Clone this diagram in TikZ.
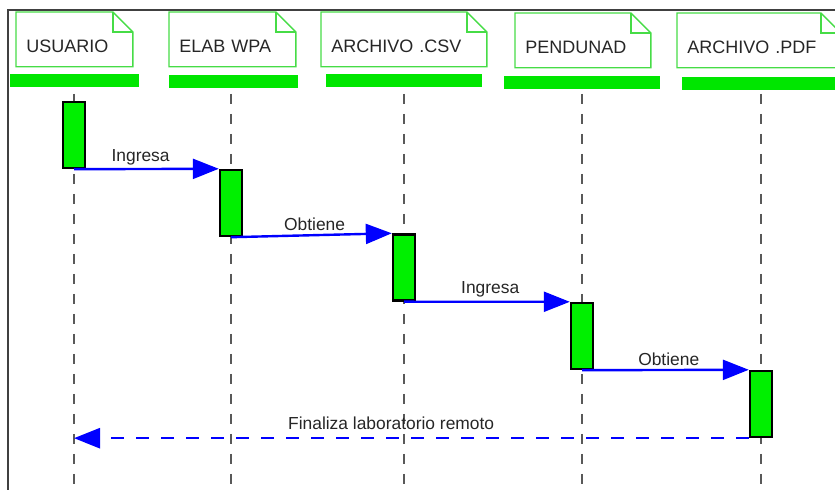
\documentclass[tikz,border=0pt]{standalone}
\usepackage{fontspec}
\setmainfont{Liberation Sans}
\usetikzlibrary{arrows.meta,calc}
\definecolor{bargreen}{RGB}{0,230,0}
\definecolor{actgreen}{RGB}{0,240,0}
\definecolor{notegreen}{RGB}{70,220,70}
\definecolor{msgblue}{RGB}{0,0,255}
\tikzset{
  >={Triangle[length=13pt,width=10pt]},
  headbox/.style={anchor=north west,inner xsep=5pt,inner ysep=0pt,
    text height=20pt,text depth=7pt,align=left,
    font=\fontsize{9}{10}\selectfont,text=black!85},
  headline/.style={draw=notegreen,line width=0.7pt},
  headbar/.style={fill=bargreen},
  lifeline/.style={black!65,line width=0.8pt,dash pattern=on 5pt off 5pt},
  actbox/.style={draw=black,line width=1.2pt,fill=actgreen,minimum width=11pt,
    minimum height=33pt,inner sep=0pt},
  msg/.style={->,msgblue,line width=1.2pt},
  ret/.style={msg,line width=1.3pt,dash pattern=on 6.5pt off 6pt},
  msglbl/.style={above,font=\fontsize{8.7}{10}\selectfont,inner sep=1.5pt,
    text=black!85},
  frame/.style={black!75,line width=1pt},
}
\begin{document}
\begin{tikzpicture}[x=0.5pt,y=-0.5pt]
  \useasboundingbox (0,0) rectangle (835,490);
  \draw[frame] (8,490) -- (8,10) -- (835,10);
  \node[headbox,text width=48pt] (usuario) at (16,12) {USUARIO};
  \node[headbox,text width=53pt] (elab) at (169,12) {ELAB WPA};
  \node[headbox,text width=72.5pt] (csv) at (321,12) {ARCHIVO .CSV};
  \node[headbox,text width=57.5pt] (pend) at (515,13) {PENDUNAD};
  \node[headbox,text width=71.5pt] (pdf) at (677,13) {ARCHIVO .PDF};
  \foreach \h in {usuario,elab,csv,pend,pdf}{
    \draw[headline] (\h.south west) |- ($(\h.north east)+(-10pt,0)$)
      -- ($(\h.north east)+(0,-10pt)$) -- (\h.south east) -- cycle;
    \draw[headline] ($(\h.north east)+(-10pt,0)$) |- ($(\h.north east)+(0,-10pt)$);
  }
  \fill[headbar] (10,74) rectangle (139,87);
  \fill[headbar] (169,75) rectangle (298,88);
  \fill[headbar] (326,74) rectangle (482,87);
  \fill[headbar] (504,76) rectangle (660,89);
  \fill[headbar] (682,77) rectangle (835,90);
  \foreach \i/\x in {1/74,2/231,3/404,4/582,5/761}{
    \coordinate (top\i) at (\x,94);
    \coordinate (bot\i) at (\x,490);
    \draw[lifeline] (top\i) -- (bot\i);
  }
  \node[actbox] (a1) at (74,135) {};
  \node[actbox] (a2) at (231,203) {};
  \node[actbox] (a3) at (404,267.5) {};
  \node[actbox] (a4) at (582,336) {};
  \node[actbox] (a5) at (761,404) {};
  \draw[msg] (a1.south) -- node[msglbl,pos=0.46]{Ingresa} (a2.north west);
  \draw[msg] (a2.south) -- node[msglbl,pos=0.52]{Obtiene} (a3.north west);
  \draw[msg] (a3.south) -- node[msglbl,pos=0.52]{Ingresa} (a4.north west);
  \draw[msg] (a4.south) -- node[msglbl,pos=0.52]{Obtiene} (a5.north west);
  \draw[ret] (a5.south west) -- node[msglbl,pos=0.53,yshift=2pt]{Finaliza laboratorio remoto}
    (a5.south west -| top1);
\end{tikzpicture}
\end{document}
